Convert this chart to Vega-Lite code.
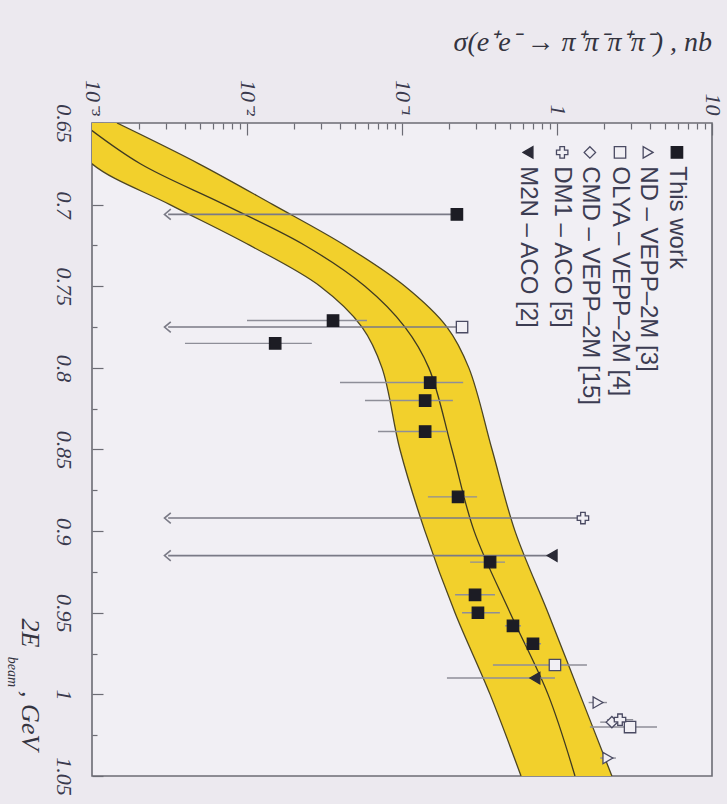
{
  "$schema": "https://vega.github.io/schema/vega-lite/v6.json",
  "width": 620,
  "height": 653,
  "autosize": {"type": "none"},
  "padding": {"left": 92, "top": 123, "right": 15, "bottom": 28},
  "background": "#ece9ef",
  "title": {
    "text": "σ(e⁺e⁻ → π⁺π⁻π⁺π⁻) , nb",
    "anchor": "end",
    "frame": "group",
    "font": "Liberation Serif",
    "fontStyle": "italic",
    "fontWeight": "normal",
    "fontSize": 28,
    "color": "#34343f",
    "offset": 22
  },
  "config": {
    "view": {"stroke": "#6c6c74", "strokeWidth": 1.6, "fill": "#f1eff4"},
    "axis": {
      "grid": false,
      "domain": false,
      "labelFont": "Liberation Serif",
      "labelFontStyle": "italic",
      "labelFontSize": 22,
      "labelColor": "#3a3a4e",
      "tickColor": "#6c6c74",
      "tickWidth": 1.2
    }
  },
  "datasets": {
    "band": [
      {"E": 0.65, "lo": 0.00062, "mid": 0.00086, "hi": 0.00145},
      {"E": 0.675, "lo": 0.001, "mid": 0.00205, "hi": 0.0049},
      {"E": 0.7, "lo": 0.00318, "mid": 0.00715, "hi": 0.0147},
      {"E": 0.725, "lo": 0.01045, "mid": 0.0237, "hi": 0.0429},
      {"E": 0.75, "lo": 0.0296, "mid": 0.0577, "hi": 0.1045},
      {"E": 0.775, "lo": 0.0552, "mid": 0.1045, "hi": 0.195},
      {"E": 0.8, "lo": 0.0743, "mid": 0.149, "hi": 0.27},
      {"E": 0.85, "lo": 0.097, "mid": 0.21, "hi": 0.381},
      {"E": 0.9, "lo": 0.1406, "mid": 0.292, "hi": 0.536},
      {"E": 0.95, "lo": 0.2197, "mid": 0.498, "hi": 0.875},
      {"E": 1.0, "lo": 0.37, "mid": 0.875, "hi": 1.406},
      {"E": 1.05, "lo": 0.586, "mid": 1.306, "hi": 2.26}
    ],
    "points": [
      {"set": "This work", "E": 0.706, "s": 0.226},
      {"set": "This work", "E": 0.771, "s": 0.0359, "lo": 0.01, "hi": 0.0594},
      {"set": "This work", "E": 0.785, "s": 0.0152, "lo": 0.00398, "hi": 0.0262},
      {"set": "This work", "E": 0.809, "s": 0.152, "lo": 0.0398, "hi": 0.248},
      {"set": "This work", "E": 0.82, "s": 0.141, "lo": 0.0577, "hi": 0.213},
      {"set": "This work", "E": 0.839, "s": 0.141, "lo": 0.07, "hi": 0.195},
      {"set": "This work", "E": 0.879, "s": 0.23, "lo": 0.147, "hi": 0.305},
      {"set": "This work", "E": 0.919, "s": 0.37, "lo": 0.275, "hi": 0.462},
      {"set": "This work", "E": 0.939, "s": 0.296, "lo": 0.22, "hi": 0.398},
      {"set": "This work", "E": 0.95, "s": 0.309, "lo": 0.244, "hi": 0.428},
      {"set": "This work", "E": 0.958, "s": 0.52, "lo": 0.462, "hi": 0.586},
      {"set": "This work", "E": 0.969, "s": 0.7, "lo": 0.622, "hi": 0.789},
      {"set": "OLYA – VEPP–2M [4]", "E": 0.775, "s": 0.244},
      {"set": "OLYA – VEPP–2M [4]", "E": 0.982, "s": 0.97, "lo": 0.386, "hi": 1.56},
      {"set": "OLYA – VEPP–2M [4]", "E": 1.02, "s": 2.96, "lo": 1.63, "hi": 4.42},
      {"set": "ND – VEPP–2M [3]", "E": 1.005, "s": 1.84, "lo": 1.6, "hi": 2.1},
      {"set": "ND – VEPP–2M [3]", "E": 1.039, "s": 2.13, "lo": 1.9, "hi": 2.4},
      {"set": "CMD – VEPP–2M [15]", "E": 1.017, "s": 2.26, "lo": 1.9, "hi": 2.7},
      {"set": "DM1 – ACO [5]", "E": 0.892, "s": 1.47},
      {"set": "DM1 – ACO [5]", "E": 1.0155, "s": 2.55, "lo": 2.1, "hi": 3.1},
      {"set": "M2N – ACO [2]", "E": 0.915, "s": 0.93},
      {"set": "M2N – ACO [2]", "E": 0.99, "s": 0.72, "lo": 0.195, "hi": 0.97}
    ],
    "limits": [
      {"set": "This work", "E": 0.706, "s": 0.226, "tip": 0.0031},
      {"set": "OLYA – VEPP–2M [4]", "E": 0.775, "s": 0.244, "tip": 0.0031},
      {"set": "DM1 – ACO [5]", "E": 0.892, "s": 1.47, "tip": 0.0031},
      {"set": "M2N – ACO [2]", "E": 0.915, "s": 0.93, "tip": 0.0031}
    ],
    "legend": [
      {"set": "This work", "s": 5.94},
      {"set": "ND – VEPP–2M [3]", "s": 3.87},
      {"set": "OLYA – VEPP–2M [4]", "s": 2.55},
      {"set": "CMD – VEPP–2M [15]", "s": 1.63},
      {"set": "DM1 – ACO [5]", "s": 1.08},
      {"set": "M2N – ACO [2]", "s": 0.65}
    ],
    "ytitle": [
      {"t": "2E", "s": 0.000398, "E": 0.9535},
      {"t": ", GeV", "s": 0.000398, "E": 0.998}
    ],
    "ysub": [
      {"t": "beam", "s": 0.000305, "E": 0.977}
    ]
  },
  "layer": [
    {
      "data": {"name": "band"},
      "mark": {"type": "area", "orient": "horizontal", "interpolate": "catmull-rom", "color": "#f2d02c", "clip": true},
      "encoding": {
        "y": {
          "field": "E", "type": "quantitative", "title": null,
          "scale": {"domain": [0.65, 1.05], "nice": false, "zero": false, "reverse": true},
          "axis": {
            "orient": "left",
            "values": [0.65, 0.675, 0.7, 0.725, 0.75, 0.775, 0.8, 0.825, 0.85, 0.875, 0.9, 0.925, 0.95, 0.975, 1, 1.025, 1.05],
            "format": "~g",
            "labelExpr": "indexof([0.65, 0.7, 0.75, 0.8, 0.85, 0.9, 0.95, 1, 1.05], datum.value) >= 0 ? datum.label : ''",
            "tickSize": {"condition": {"test": "indexof([0.65, 0.7, 0.75, 0.8, 0.85, 0.9, 0.95, 1, 1.05], datum.value) >= 0", "value": -11}, "value": -5},
            "labelAngle": 90,
            "labelAlign": "center",
            "labelBaseline": "top",
            "labelPadding": 30,
            "labelOverlap": false,
            "labelFlush": false
          }
        },
        "x": {
          "field": "lo", "type": "quantitative", "title": null,
          "scale": {"type": "log", "domain": [0.001, 10], "nice": false},
          "axis": {
            "orient": "top",
            "values": [0.001, 0.002, 0.003, 0.004, 0.005, 0.006, 0.007, 0.008, 0.009, 0.01, 0.02, 0.03, 0.04, 0.05, 0.06, 0.07, 0.08, 0.09, 0.1, 0.2, 0.3, 0.4, 0.5, 0.6, 0.7, 0.8, 0.9, 1, 2, 3, 4, 5, 6, 7, 8, 9, 10],
            "labelExpr": "datum.value == 0.001 ? '10⁻³' : datum.value == 0.01 ? '10⁻²' : datum.value == 0.1 ? '10⁻¹' : datum.value == 1 ? '1' : datum.value == 10 ? '10' : ''",
            "tickSize": {"condition": {"test": "indexof([0.001, 0.01, 0.1, 1, 10], datum.value) >= 0", "value": -12}, "value": -6},
            "labelAngle": 90,
            "labelAlign": "right",
            "labelBaseline": "middle",
            "labelPadding": 20,
            "labelOverlap": false,
            "labelFlush": false
          }
        },
        "x2": {"field": "hi"}
      }
    },
    {
      "data": {"name": "band"},
      "mark": {"type": "line", "interpolate": "catmull-rom", "color": "#4d4622", "strokeWidth": 1.3, "clip": true},
      "encoding": {
        "x": {"field": "lo", "type": "quantitative", "title": null, "scale": {"type": "log", "domain": [0.001, 10], "nice": false}},
        "y": {"field": "E", "type": "quantitative", "title": null, "scale": {"domain": [0.65, 1.05], "nice": false, "zero": false, "reverse": true}},
        "order": {"field": "E", "type": "quantitative"}
      }
    },
    {
      "data": {"name": "band"},
      "mark": {"type": "line", "interpolate": "catmull-rom", "color": "#3f3a22", "strokeWidth": 1.3, "clip": true},
      "encoding": {
        "x": {"field": "mid", "type": "quantitative", "title": null, "scale": {"type": "log", "domain": [0.001, 10], "nice": false}},
        "y": {"field": "E", "type": "quantitative", "title": null, "scale": {"domain": [0.65, 1.05], "nice": false, "zero": false, "reverse": true}},
        "order": {"field": "E", "type": "quantitative"}
      }
    },
    {
      "data": {"name": "band"},
      "mark": {"type": "line", "interpolate": "catmull-rom", "color": "#4d4622", "strokeWidth": 1.3, "clip": true},
      "encoding": {
        "x": {"field": "hi", "type": "quantitative", "title": null, "scale": {"type": "log", "domain": [0.001, 10], "nice": false}},
        "y": {"field": "E", "type": "quantitative", "title": null, "scale": {"domain": [0.65, 1.05], "nice": false, "zero": false, "reverse": true}},
        "order": {"field": "E", "type": "quantitative"}
      }
    },
    {
      "data": {"name": "points"},
      "transform": [{"filter": "isValid(datum.lo)"}],
      "mark": {"type": "rule", "color": "#8e8e98", "strokeWidth": 1.4},
      "encoding": {
        "x": {"field": "lo", "type": "quantitative", "title": null, "scale": {"type": "log", "domain": [0.001, 10], "nice": false}},
        "x2": {"field": "hi"},
        "y": {"field": "E", "type": "quantitative", "title": null, "scale": {"domain": [0.65, 1.05], "nice": false, "zero": false, "reverse": true}}
      }
    },
    {
      "data": {"name": "limits"},
      "mark": {"type": "rule", "color": "#7a7a86", "strokeWidth": 1.6},
      "encoding": {
        "x": {"field": "tip", "type": "quantitative", "title": null, "scale": {"type": "log", "domain": [0.001, 10], "nice": false}},
        "x2": {"field": "s"},
        "y": {"field": "E", "type": "quantitative", "title": null, "scale": {"domain": [0.65, 1.05], "nice": false, "zero": false, "reverse": true}}
      }
    },
    {
      "data": {"name": "limits"},
      "mark": {"type": "point", "shape": "M0.5,-1L-0.7,0L0.5,1", "filled": false, "size": 110, "stroke": "#7a7a86", "strokeWidth": 1.6, "opacity": 1},
      "encoding": {
        "x": {"field": "tip", "type": "quantitative", "title": null, "scale": {"type": "log", "domain": [0.001, 10], "nice": false}},
        "y": {"field": "E", "type": "quantitative", "title": null, "scale": {"domain": [0.65, 1.05], "nice": false, "zero": false, "reverse": true}}
      }
    },
    {
      "data": {"name": "points"},
      "mark": {"type": "point", "filled": true, "size": 130, "strokeWidth": 1.3, "opacity": 1},
      "encoding": {
        "x": {"field": "s", "type": "quantitative", "title": null, "scale": {"type": "log", "domain": [0.001, 10], "nice": false}},
        "y": {"field": "E", "type": "quantitative", "title": null, "scale": {"domain": [0.65, 1.05], "nice": false, "zero": false, "reverse": true}},
        "shape": {
          "field": "set", "type": "nominal", "legend": null,
          "scale": {
            "domain": ["This work", "ND – VEPP–2M [3]", "OLYA – VEPP–2M [4]", "CMD – VEPP–2M [15]", "DM1 – ACO [5]", "M2N – ACO [2]"],
            "range": ["square", "triangle-right", "square", "diamond", "cross", "triangle-left"]
          }
        },
        "fill": {
          "field": "set", "type": "nominal", "legend": null,
          "scale": {
            "domain": ["This work", "ND – VEPP–2M [3]", "OLYA – VEPP–2M [4]", "CMD – VEPP–2M [15]", "DM1 – ACO [5]", "M2N – ACO [2]"],
            "range": ["#1c1c24", "#f1eff4", "#f1eff4", "#f1eff4", "#f1eff4", "#2a2a36"]
          }
        },
        "stroke": {
          "field": "set", "type": "nominal", "legend": null,
          "scale": {
            "domain": ["This work", "ND – VEPP–2M [3]", "OLYA – VEPP–2M [4]", "CMD – VEPP–2M [15]", "DM1 – ACO [5]", "M2N – ACO [2]"],
            "range": ["#1c1c24", "#4a4a62", "#4a4a62", "#4a4a62", "#4a4a62", "#2a2a36"]
          }
        }
      }
    },
    {
      "data": {"name": "legend"},
      "mark": {"type": "point", "filled": true, "size": 130, "strokeWidth": 1.3, "opacity": 1},
      "encoding": {
        "x": {"field": "s", "type": "quantitative", "title": null, "scale": {"type": "log", "domain": [0.001, 10], "nice": false}},
        "y": {"datum": 0.668, "type": "quantitative", "scale": {"domain": [0.65, 1.05], "nice": false, "zero": false, "reverse": true}},
        "shape": {"field": "set", "type": "nominal", "legend": null},
        "fill": {"field": "set", "type": "nominal", "legend": null},
        "stroke": {"field": "set", "type": "nominal", "legend": null}
      }
    },
    {
      "data": {"name": "legend"},
      "mark": {"type": "text", "angle": 90, "align": "left", "baseline": "middle", "font": "Liberation Sans", "fontSize": 24, "color": "#3c3c52"},
      "encoding": {
        "x": {"field": "s", "type": "quantitative", "title": null, "scale": {"type": "log", "domain": [0.001, 10], "nice": false}},
        "y": {"datum": 0.6765, "type": "quantitative", "scale": {"domain": [0.65, 1.05], "nice": false, "zero": false, "reverse": true}},
        "text": {"field": "set", "type": "nominal"}
      }
    },
    {
      "data": {"name": "ytitle"},
      "mark": {"type": "text", "angle": 90, "align": "left", "baseline": "middle", "font": "Liberation Serif", "fontStyle": "italic", "fontSize": 26, "color": "#34343f"},
      "encoding": {
        "x": {"field": "s", "type": "quantitative", "title": null, "scale": {"type": "log", "domain": [0.001, 10], "nice": false}},
        "y": {"field": "E", "type": "quantitative", "title": null, "scale": {"domain": [0.65, 1.05], "nice": false, "zero": false, "reverse": true}},
        "text": {"field": "t", "type": "nominal"}
      }
    },
    {
      "data": {"name": "ysub"},
      "mark": {"type": "text", "angle": 90, "align": "left", "baseline": "middle", "font": "Liberation Serif", "fontStyle": "italic", "fontSize": 14, "color": "#34343f"},
      "encoding": {
        "x": {"field": "s", "type": "quantitative", "title": null, "scale": {"type": "log", "domain": [0.001, 10], "nice": false}},
        "y": {"field": "E", "type": "quantitative", "title": null, "scale": {"domain": [0.65, 1.05], "nice": false, "zero": false, "reverse": true}},
        "text": {"field": "t", "type": "nominal"}
      }
    }
  ]
}
